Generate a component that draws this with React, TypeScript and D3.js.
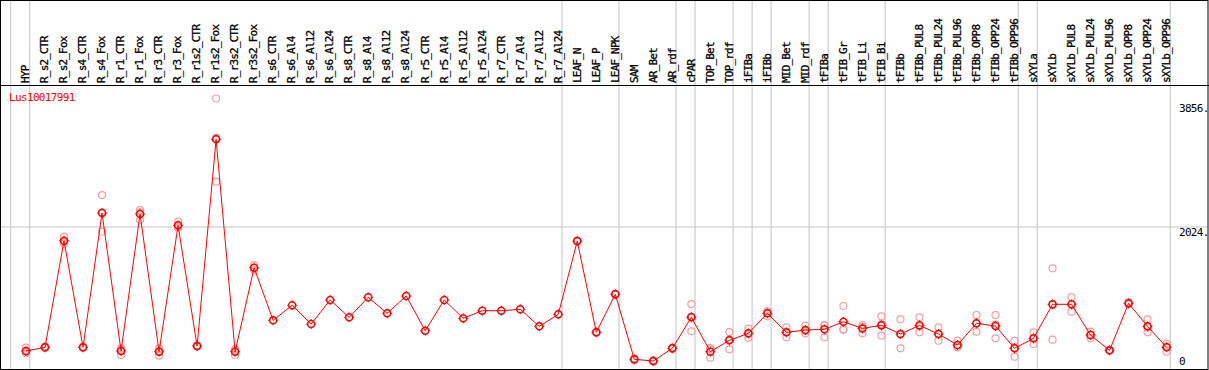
import React from 'react';
import * as d3 from 'd3';

const categories = [
  'HYP', 'R_s2_CTR', 'R_s2_Fox', 'R_s4_CTR', 'R_s4_Fox', 'R_r1_CTR', 'R_r1_Fox', 'R_r3_CTR', 'R_r3_Fox',
  'R_r1s2_CTR', 'R_r1s2_Fox', 'R_r3s2_CTR', 'R_r3s2_Fox', 'R_s6_CTR', 'R_s6_Al4', 'R_s6_Al12', 'R_s6_Al24',
  'R_s8_CTR', 'R_s8_Al4', 'R_s8_Al12', 'R_s8_Al24', 'R_r5_CTR', 'R_r5_Al4', 'R_r5_Al12', 'R_r5_Al24',
  'R_r7_CTR', 'R_r7_Al4', 'R_r7_Al12', 'R_r7_Al24', 'LEAF_N', 'LEAF_P', 'LEAF_NPK', 'SAM', 'AR_Bet', 'AR_rdf',
  'cPAR', 'TOP_Bet', 'TOP_rdf', 'iFIBa', 'iFIBb', 'MID_Bet', 'MID_rdf', 'tFIBa', 'tFIB_Gr', 'tFIB_Li', 'tFIB_Bi',
  'tFIBb', 'tFIBb_PUL8', 'tFIBb_PUL24', 'tFIBb_PUL96', 'tFIBb_OPP8', 'tFIBb_OPP24', 'tFIBb_OPP96',
  'sXYLa', 'sXYLb', 'sXYLb_PUL8', 'sXYLb_PUL24', 'sXYLb_PUL96', 'sXYLb_OPP8', 'sXYLb_OPP24', 'sXYLb_OPP96',
];

// first category of each group gets a separator line on its left
const groupStarts = ['HYP', 'R_s2_CTR', 'LEAF_N', 'SAM', 'cPAR', 'TOP_Bet', 'iFIBa', 'iFIBb', 'MID_Bet',
  'tFIBa', 'tFIB_Gr', 'tFIBb', 'sXYLa', 'sXYLb'];

const means = [
  257, 309, 1829, 309, 2224, 257, 2209, 247, 2048,
  328, 3274, 247, 1444, 694, 908, 641, 984,
  737, 1022, 794, 1041, 546, 984, 722, 831,
  831, 851, 608, 779, 1824, 523, 1065, 138, 114, 295,
  737, 247, 409, 508, 794, 523, 556, 565, 674, 579, 622,
  499, 622, 499, 342, 651, 613, 295,
  437, 922, 922, 485, 266, 936, 608, 309,
];

// replicate measurements per category (empty = hidden behind the mean)
const replicates: number[][] = [
  [304, 224, 245], [320, 300, 309], [1886, 1786, 1815], [315, 300, 312], [2480, 1957, 2235],
  [295, 200, 275], [2266, 2124, 2237], [295, 190, 256], [2100, 2029, 2015],
  [335, 320, 330], [3856, 2670, 3296], [281, 200, 260], [1482, 1411, 1440],
  [], [], [], [], [], [], [], [], [], [], [], [], [], [], [], [],
  [1830, 1818], [530, 516], [1070, 1060], [150, 126], [125, 104], [305, 286],
  [926, 537, 748], [299, 161, 281], [527, 280, 420], [575, 447, 502], [827, 751, 804],
  [594, 451, 524], [617, 508, 543], [627, 451, 617], [898, 565, 559], [627, 508, 602], [751, 475, 640],
  [708, 295, 494], [737, 523, 606], [594, 404, 499], [404, 309, 313], [770, 532, 651], [770, 437, 632], [404, 176, 305],
  [523, 356, 432], [1435, 418, 913], [1026, 817, 923], [532, 437, 486], [270, 262, 266], [955, 925, 928],
  [708, 523, 593], [361, 247, 319],
];

const maxValue = 3856;
const midLabel = '2024.';
const topLabel = '3856.';
const geneName = 'Lus10017991';

const W = 1209;
const H = 370;
const headerBottom = 85;
const plotBottom = 369;
const font = "'DejaVu Sans Mono', monospace";

export default function App() {
  const x = d3.scaleBand<string>().domain(categories).range([10.7, 1170.3]).paddingInner(0).paddingOuter(0);
  const px = (c: string) => (x(c) as number) + x.bandwidth() * 0.805;
  const y = d3.scaleLinear().domain([0, maxValue * 1.05]).range([plotBottom, headerBottom]);
  const mid = (maxValue * 1.05) / 2;

  const line = d3.line<number>()
    .x((_, i) => px(categories[i]))
    .y((d) => y(d));

  const sepX = groupStarts.map((c) => x(c) as number).concat([x.range()[1]]);
  const r = 3.5;

  return (
    <div style={{ position: 'absolute', left: 0, top: 0 }}>
      <svg width={W} height={H} style={{ display: 'block', background: '#fff' }}>
        {/* group separators */}
        {sepX.map((sx, i) => (
          <line key={i} x1={sx} x2={sx} y1={0} y2={plotBottom} stroke="#c4c4c4" strokeWidth={1} />
        ))}
        <line x1={0} x2={W - 1} y1={y(mid)} y2={y(mid)} stroke="#c4c4c4" strokeWidth={1} />

        {/* frame */}
        <rect x={0.5} y={0.5} width={W - 1.5} height={plotBottom} fill="none" stroke="#000" strokeWidth={1} />
        <line x1={0} x2={W} y1={headerBottom + 0.5} y2={headerBottom + 0.5} stroke="#000" strokeWidth={1} />

        {/* column labels */}
        {categories.map((c) => (
          <text key={c} transform={`translate(${Math.round(px(c) + 3.3) + 0.2},83) rotate(-90)`} fontFamily={font}
            fontSize={11} letterSpacing={-0.8} fill="#000" stroke="#000" strokeWidth={0.3}>{c}</text>
        ))}

        <text x={9} y={101} fontFamily={font} fontSize={11} letterSpacing={-0.65} fill="#ff0000">{geneName}</text>

        {/* value labels */}
        <text x={1179} y={y(maxValue) + 13} fontFamily={font} fontSize={11} letterSpacing={-0.7}>{topLabel}</text>
        <text x={1179} y={y(mid) + 9} fontFamily={font} fontSize={11} letterSpacing={-0.7}>{midLabel}</text>
        <text x={1179} y={y(0) - 4} fontFamily={font} fontSize={11} letterSpacing={-0.7}>0</text>

        {/* replicates */}
        {replicates.map((reps, i) =>
          reps.map((v, j) => (
            <circle key={`${i}-${j}`} cx={px(categories[i])} cy={y(v)} r={r} fill="none" stroke="#f0a0a0" strokeWidth={1.2} />
          ))
        )}

        <path d={line(means) || ''} fill="none" stroke="#ff0000" strokeWidth={1} />

        {/* means */}
        {means.map((v, i) => {
          const cx = px(categories[i]);
          const cy = y(v);
          return (
            <g key={i}>
              <circle cx={cx} cy={cy} r={r} fill="none" stroke="#ff0000" strokeWidth={1.5} />
              <path d={`M${cx},${cy - r - 1.5}V${cy - r + 0.5}M${cx},${cy + r - 0.5}V${cy + r + 1.5}M${cx - r - 1.5},${cy}H${cx - r + 0.5}M${cx + r - 0.5},${cy}H${cx + r + 1.5}`}
                stroke="#ff0000" strokeWidth={1} />
            </g>
          );
        })}
      </svg>
    </div>
  );
}
